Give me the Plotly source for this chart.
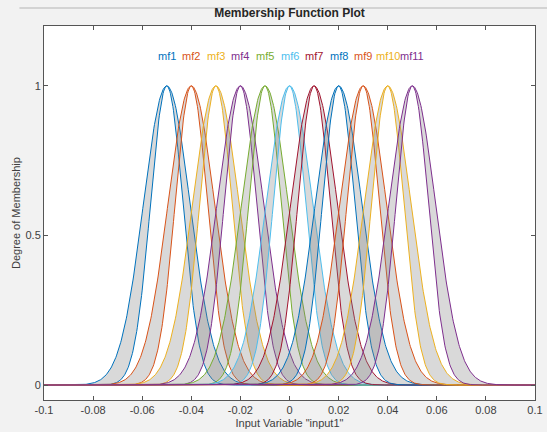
import numpy as np
import plotly.graph_objects as go

# Membership functions (interval type-2 Gaussian: upper and lower MF)
mf_names = ["mf1", "mf2", "mf3", "mf4", "mf5", "mf6", "mf7", "mf8", "mf9", "mf10", "mf11"]
mf_centers = [-0.05, -0.04, -0.03, -0.02, -0.01, 0.0, 0.01, 0.02, 0.03, 0.04, 0.05]
upper_sigma = [0.0095] * 11
lower_sigma = [0.0066] * 11
mf_colors = ["#0072BD", "#D95319", "#EDB120", "#7E2F8E", "#77AC30", "#4DBEEE",
             "#A2142F", "#0072BD", "#D95319", "#EDB120", "#7E2F8E"]

x_ticks = [-0.1, -0.08, -0.06, -0.04, -0.02, 0, 0.02, 0.04, 0.06, 0.08, 0.1]
x_ticklabels = ["-0.1", "-0.08", "-0.06", "-0.04", "-0.02", "0", "0.02", "0.04", "0.06", "0.08", "0.1"]
y_ticks = [0, 0.5, 1]
y_ticklabels = ["0", "0.5", "1"]

x = np.linspace(-0.1, 0.1, 801)

fig = go.Figure()
for name, c, su, sl, col in zip(mf_names, mf_centers, upper_sigma, lower_sigma, mf_colors):
    yu = np.exp(-((x - c) ** 2) / (2 * su ** 2))
    yl = np.exp(-((x - c) ** 2) / (2 * sl ** 2))
    fig.add_trace(go.Scatter(x=x, y=yu, mode="lines", line=dict(color=col, width=1),
                             showlegend=False, hoverinfo="skip"))
    fig.add_trace(go.Scatter(x=x, y=yl, mode="lines", line=dict(color=col, width=1),
                             fill="tonexty", fillcolor="rgba(128,128,128,0.3)",
                             showlegend=False, hoverinfo="skip"))

for name, c, col in zip(mf_names, mf_centers, mf_colors):
    fig.add_annotation(x=c, y=1.1, text=name, showarrow=False,
                       font=dict(color=col, size=11, family="Liberation Sans, Arial"),
                       xanchor="center", yanchor="middle")

fig.add_annotation(xref="paper", yref="paper", x=-0.057, y=0.5, text="Degree of Membership",
                   textangle=-90, showarrow=False, xanchor="center", yanchor="middle",
                   font=dict(size=11, color="#404040", family="Liberation Sans, Arial"))

fig.add_shape(type="line", xref="paper", yref="paper", x0=-0.05, x1=1.03, y0=1.048, y1=1.048,
              line=dict(color="#c8c8c8", width=1.5))

axis_common = dict(showline=True, linecolor="#555555", linewidth=1, mirror="ticks",
                   ticks="inside", ticklen=4, tickcolor="#555555", showgrid=False,
                   zeroline=False, automargin=False,
                   tickfont=dict(size=11, color="#404040", family="Liberation Sans, Arial"))

fig.update_layout(
    width=547, height=432,
    margin=dict(l=44, r=12, t=26, b=32),
    paper_bgcolor="#f2f2f2", plot_bgcolor="white",
    title=dict(text="<b>Membership Function Plot</b>", x=0.5, xref="paper", xanchor="center",
               y=1 - 13 / 432, yanchor="middle",
               font=dict(size=12, color="#262626", family="Liberation Sans, Arial")),
    xaxis=dict(range=[-0.1, 0.1], tickvals=x_ticks, ticktext=x_ticklabels,
               title=dict(text='Input Variable "input1"', standoff=4,
                          font=dict(size=11, color="#404040", family="Liberation Sans, Arial")),
               **axis_common),
    yaxis=dict(range=[-0.05, 1.2], tickvals=y_ticks, ticktext=y_ticklabels,
               **axis_common),
)

fig.write_html("out.html")
